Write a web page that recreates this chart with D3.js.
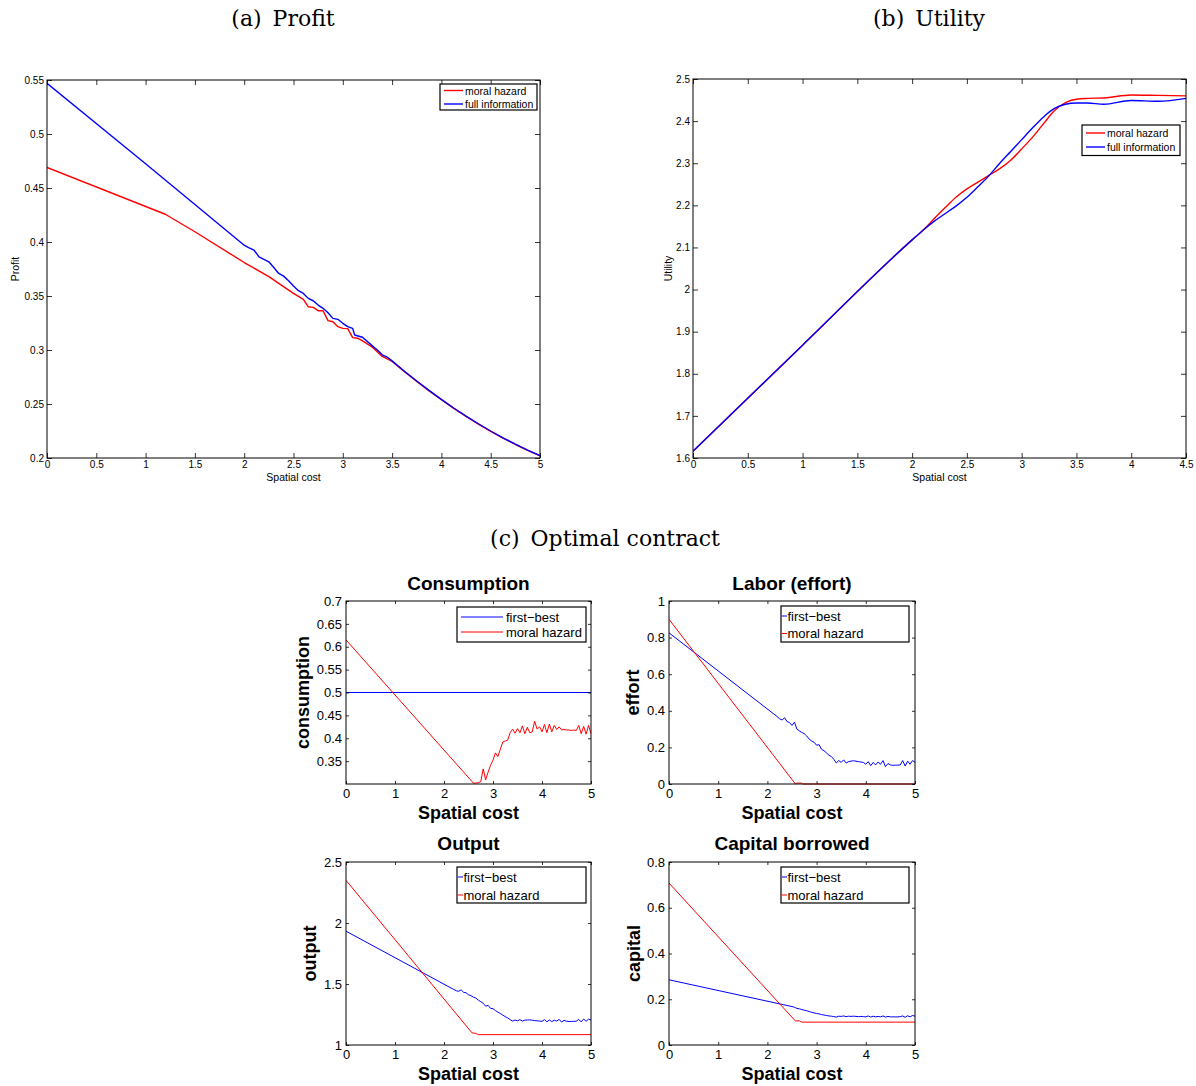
<!DOCTYPE html>
<html><head><meta charset="utf-8">
<script src="https://cdn.jsdelivr.net/npm/d3@7"></script>
<style>body{margin:0;background:#fff}svg{display:block}text{fill:#000}</style>
</head><body>
<svg id="c" width="1196" height="1086"></svg>
<script>
// ---------------- DATA ----------------
// (a) Profit
const profitMhX = [0, 1.2, 1.5, 2.0, 2.25, 2.5, 2.6, 2.65, 2.7, 2.75, 2.8, 2.85, 2.9, 2.95, 3.0, 3.05, 3.1, 3.15, 3.2, 3.3, 3.4, 3.5, 3.625, 3.75, 3.875, 4.0, 4.125, 4.25, 4.375, 4.5, 4.625, 4.75, 4.875, 5.0];
const profitMhY = [0.469, 0.4257, 0.4095, 0.381, 0.368, 0.3524, 0.3469, 0.340, 0.3395, 0.3364, 0.3364, 0.3272, 0.3262, 0.3216, 0.320, 0.3198, 0.3115, 0.3109, 0.3084, 0.3026, 0.294, 0.2895, 0.2800, 0.2709, 0.2622, 0.2539, 0.2460, 0.2385, 0.2314, 0.2247, 0.2184, 0.2125, 0.2070, 0.2019];
const profitFiX = [0, 1.0, 2.0, 2.05, 2.1, 2.15, 2.2, 2.25, 2.3, 2.35, 2.4, 2.45, 2.5, 2.55, 2.6, 2.65, 2.7, 2.75, 2.8, 2.85, 2.9, 2.95, 3.0, 3.05, 3.1, 3.12, 3.2, 3.3, 3.35, 3.4, 3.45, 3.5, 3.625, 3.75, 3.875, 4.0, 4.125, 4.25, 4.375, 4.5, 4.625, 4.75, 4.875, 5.0];
const profitFiY = [0.547, 0.4725, 0.397, 0.3946, 0.3924, 0.3863, 0.384, 0.3817, 0.3764, 0.3709, 0.3684, 0.3641, 0.3592, 0.3549, 0.3524, 0.3478, 0.3456, 0.3416, 0.3386, 0.3345, 0.3293, 0.3284, 0.3247, 0.3216, 0.320, 0.3139, 0.3118, 0.3038, 0.3000, 0.2955, 0.2935, 0.2899, 0.2804, 0.2713, 0.2626, 0.2543, 0.2463, 0.2388, 0.2317, 0.2250, 0.2187, 0.2128, 0.2073, 0.2022];

// (b) Utility
const utilX   = [0, 1.0, 2.0, 2.1, 2.2, 2.3, 2.4, 2.5, 2.6, 2.7, 2.8, 2.9, 3.0, 3.1, 3.2, 3.3, 3.4, 3.5, 3.6, 3.75, 4.0, 4.25, 4.5];
const utilMhY = [1.616, 1.868, 2.118, 2.141, 2.168, 2.194, 2.219, 2.239, 2.255, 2.271, 2.287, 2.307, 2.334, 2.362, 2.394, 2.425, 2.444, 2.452, 2.454, 2.455, 2.462, 2.461, 2.460];
const utilFiY = [1.616, 1.868, 2.118, 2.141, 2.162, 2.180, 2.198, 2.219, 2.244, 2.270, 2.300, 2.328, 2.356, 2.384, 2.410, 2.430, 2.440, 2.443, 2.443, 2.440, 2.449, 2.447, 2.454];

// (c) Optimal contract
const consFbX = [0, 5];
const consFbY = [0.5, 0.5];
const consMhX = [0, 2.6, 2.65, 2.7, 2.75, 2.8, 2.85, 2.9, 2.95, 3.0, 3.05, 3.1, 3.15, 3.2, 3.25, 3.3, 3.35, 3.4, 3.45, 3.5, 3.55, 3.6, 3.65, 3.7, 3.75, 3.8, 3.85, 3.9, 3.95, 4.0, 4.05, 4.1, 4.15, 4.2, 4.25, 4.3, 4.35, 4.4, 4.45, 4.5, 4.55, 4.6, 4.65, 4.7, 4.75, 4.8, 4.85, 4.9, 4.95, 5.0];
const consMhY = [0.615, 0.302, 0.302, 0.303, 0.305, 0.333, 0.309, 0.326, 0.341, 0.352, 0.368, 0.360, 0.376, 0.392, 0.394, 0.396, 0.412, 0.420, 0.411, 0.421, 0.412, 0.427, 0.410, 0.424, 0.412, 0.414, 0.437, 0.420, 0.425, 0.414, 0.430, 0.412, 0.431, 0.414, 0.428, 0.419, 0.425, 0.418, 0.419, 0.418, 0.418, 0.417, 0.418, 0.417, 0.428, 0.410, 0.426, 0.409, 0.428, 0.410];

const noisyX = [2.25, 2.3, 2.35, 2.4, 2.45, 2.5, 2.55, 2.6, 2.65, 2.7, 2.75, 2.8, 2.85, 2.9, 2.95, 3.0, 3.05, 3.1, 3.15, 3.2, 3.25, 3.3, 3.35, 3.4, 3.45, 3.5, 3.55, 3.6, 3.65, 3.7, 3.75, 3.8, 3.85, 3.9, 3.95, 4.0, 4.05, 4.1, 4.15, 4.2, 4.25, 4.3, 4.35, 4.4, 4.45, 4.5, 4.55, 4.6, 4.65, 4.7, 4.75, 4.8, 4.85, 4.9, 4.95, 5.0];

const effortFbX = [0, 2.2].concat(noisyX);
const effortFbY = [0.826, 0.368, 0.356, 0.350, 0.362, 0.341, 0.336, 0.320, 0.338, 0.300, 0.290, 0.282, 0.275, 0.262, 0.245, 0.235, 0.228, 0.212, 0.215, 0.190, 0.182, 0.170, 0.158, 0.150, 0.135, 0.115, 0.128, 0.118, 0.132, 0.115, 0.122, 0.125, 0.127, 0.125, 0.122, 0.120, 0.118, 0.108, 0.122, 0.100, 0.118, 0.104, 0.120, 0.108, 0.128, 0.095, 0.112, 0.104, 0.102, 0.103, 0.103, 0.104, 0.128, 0.098, 0.125, 0.108, 0.128, 0.118];
const effortMhX = [0, 2.57, 2.6, 2.7, 2.72, 5];
const effortMhY = [0.9, 0.0, 0.005, 0.005, 0.0, 0.0];

const outputFbX = [0, 2.2].concat(noisyX);
const outputFbY = [1.933, 1.455, 1.445, 1.440, 1.452, 1.432, 1.428, 1.412, 1.405, 1.392, 1.385, 1.368, 1.355, 1.342, 1.318, 1.325, 1.300, 1.298, 1.282, 1.270, 1.258, 1.245, 1.232, 1.222, 1.208, 1.196, 1.205, 1.198, 1.208, 1.196, 1.204, 1.205, 1.206, 1.203, 1.200, 1.198, 1.196, 1.194, 1.208, 1.190, 1.205, 1.192, 1.203, 1.196, 1.210, 1.188, 1.202, 1.195, 1.193, 1.193, 1.194, 1.195, 1.210, 1.190, 1.212, 1.195, 1.212, 1.205];
const outputMhX = [0, 2.57, 2.65, 2.7, 5];
const outputMhY = [2.35, 1.10, 1.095, 1.085, 1.085];

const capitalFbX = [0, 2.5, 2.55, 2.6, 2.65, 2.7, 2.75, 2.8, 2.85, 2.9, 2.95, 3.0, 3.05, 3.1, 3.15, 3.2, 3.25, 3.3, 3.35, 3.4, 3.45, 3.5, 3.55, 3.6, 3.65, 3.7, 3.75, 3.8, 3.85, 3.9, 3.95, 4.0, 4.05, 4.1, 4.15, 4.2, 4.25, 4.3, 4.35, 4.4, 4.45, 4.5, 4.55, 4.6, 4.65, 4.7, 4.75, 4.8, 4.85, 4.9, 4.95, 5.0];
const capitalFbY = [0.285, 0.168, 0.165, 0.160, 0.158, 0.155, 0.152, 0.150, 0.146, 0.143, 0.140, 0.138, 0.136, 0.133, 0.131, 0.129, 0.127, 0.126, 0.124, 0.122, 0.126, 0.125, 0.127, 0.124, 0.126, 0.125, 0.126, 0.125, 0.124, 0.125, 0.124, 0.123, 0.127, 0.122, 0.126, 0.123, 0.125, 0.123, 0.127, 0.122, 0.125, 0.123, 0.123, 0.123, 0.123, 0.124, 0.127, 0.121, 0.128, 0.123, 0.129, 0.126];
const capitalMhX = [0, 2.57, 2.65, 2.7, 5];
const capitalMhY = [0.708, 0.105, 0.106, 0.100, 0.100];

// tick values
const xTicks5 = [0, 0.5, 1, 1.5, 2, 2.5, 3, 3.5, 4, 4.5, 5];
const xTicks45 = [0, 0.5, 1, 1.5, 2, 2.5, 3, 3.5, 4, 4.5];
const profitTicks = [0.2, 0.25, 0.3, 0.35, 0.4, 0.45, 0.5, 0.55];
const utilTicks = [1.6, 1.7, 1.8, 1.9, 2.0, 2.1, 2.2, 2.3, 2.4, 2.5];
const xTicksInt = [0, 1, 2, 3, 4, 5];
const consTicks = [0.35, 0.4, 0.45, 0.5, 0.55, 0.6, 0.65, 0.7];
const effortTicks = [0, 0.2, 0.4, 0.6, 0.8, 1];
const outputTicks = [1, 1.5, 2, 2.5];
const capitalTicks = [0, 0.2, 0.4, 0.6, 0.8];

const RED = "#ff0000", BLUE = "#0000ff";
const SANS = "'Liberation Sans', Arial, Helvetica, sans-serif";
const SERIF = "'DejaVu Serif', 'Liberation Serif', serif";

// ---------------- DRAW ----------------
const svg = d3.select("#c");
const fmt = d => String(+d.toFixed(3));
let clipN = 0;

function panel(o) {
  const x = d3.scaleLinear().domain(o.xd).range([o.l, o.r]);
  const y = d3.scaleLinear().domain(o.yd).range([o.b, o.t]);
  const g = svg.append("g");
  const id = "clip" + (clipN++);
  svg.append("clipPath").attr("id", id).append("rect")
    .attr("x", o.l).attr("y", o.t - 1).attr("width", o.r - o.l).attr("height", o.b - o.t + 2);

  o.series.forEach(s => {
    const data = s.x.map((v, i) => [v, s.y[i]]);
    g.append("path").datum(data)
      .attr("clip-path", `url(#${id})`)
      .attr("fill", "none").attr("stroke", s.color).attr("stroke-width", o.lw)
      .attr("stroke-linejoin", "round")
      .attr("d", d3.line().x(d => x(d[0])).y(d => y(d[1])).curve(s.curve || d3.curveLinear));
  });

  const tl = o.tl;
  const styleAxis = sel => {
    sel.select(".domain").remove();
    sel.selectAll(".tick line").attr("stroke", "#000").attr("stroke-width", 0.8);
    sel.selectAll(".tick text").attr("font-family", SANS).attr("font-size", o.tfs).attr("fill", "#000");
  };
  g.append("g").attr("transform", `translate(0,${o.b})`)
    .call(d3.axisBottom(x).tickValues(o.xt).tickSize(-tl).tickPadding(o.xpad).tickFormat(fmt)).call(styleAxis);
  g.append("g").attr("transform", `translate(0,${o.t})`)
    .call(d3.axisTop(x).tickValues(o.xt).tickSize(-tl).tickFormat("")).call(styleAxis);
  g.append("g").attr("transform", `translate(${o.l},0)`)
    .call(d3.axisLeft(y).tickValues(o.yt).tickSize(-tl).tickPadding(o.ypad).tickFormat(fmt)).call(styleAxis);
  g.append("g").attr("transform", `translate(${o.r},0)`)
    .call(d3.axisRight(y).tickValues(o.yt).tickSize(-tl).tickFormat("")).call(styleAxis);

  g.append("rect").attr("x", o.l).attr("y", o.t).attr("width", o.r - o.l).attr("height", o.b - o.t)
    .attr("fill", "none").attr("stroke", "#000").attr("stroke-width", o.fw || 1);

  // labels
  g.append("text").attr("x", (o.l + o.r) / 2).attr("y", o.xly)
    .attr("text-anchor", "middle").attr("dominant-baseline", "central")
    .attr("font-family", SANS).attr("font-size", o.lfs).attr("font-weight", o.lbold ? "bold" : "normal")
    .text(o.xlabel);
  g.append("text").attr("transform", `translate(${o.ylx},${(o.t + o.b) / 2}) rotate(-90)`)
    .attr("text-anchor", "middle").attr("dominant-baseline", "central")
    .attr("font-family", SANS).attr("font-size", o.lfs).attr("font-weight", o.lbold ? "bold" : "normal")
    .text(o.ylabel);
  if (o.title) {
    g.append("text").attr("x", (o.l + o.r) / 2).attr("y", o.titley)
      .attr("text-anchor", "middle").attr("dominant-baseline", "central")
      .attr("font-family", SANS).attr("font-size", 19).attr("font-weight", "bold")
      .text(o.title);
  }

  // legend
  const L = o.legend;
  g.append("rect").attr("x", L.x0).attr("y", L.y0).attr("width", L.x1 - L.x0).attr("height", L.y1 - L.y0)
    .attr("fill", "#fff").attr("stroke", "#000").attr("stroke-width", L.bw || 1.2);
  L.items.forEach((it, i) => {
    g.append("line").attr("x1", L.sx0).attr("x2", L.sx1).attr("y1", L.rows[i]).attr("y2", L.rows[i])
      .attr("stroke", it.color).attr("stroke-width", o.lw);
    g.append("text").attr("x", L.tx).attr("y", L.rows[i]).attr("dominant-baseline", "central")
      .attr("font-family", SANS).attr("font-size", L.fs).text(it.label);
  });
}

// Section titles: "(x)" label, then a wider gap, then caption text
function secTitle(lab, txt, cx, cy) {
  const t = svg.append("text").attr("x", cx).attr("y", cy).attr("text-anchor", "middle")
    .attr("dominant-baseline", "central").attr("font-family", SERIF).attr("font-size", 22);
  t.append("tspan").text(lab);
  t.append("tspan").attr("dx", 11).text(txt);
}
secTitle("(a)", "Profit", 283, 18);
secTitle("(b)", "Utility", 929, 18);
secTitle("(c)", "Optimal contract", 605, 538);

// (a) Profit
panel({
  l: 47, r: 540, t: 80, b: 458, xd: [0, 5], yd: [0.2, 0.55], xt: xTicks5, yt: profitTicks,
  tl: 5, tfs: 10, xpad: 3, ypad: 3, lw: 1.4, lfs: 10.5, xly: 477, ylx: 15,
  xlabel: "Spatial cost", ylabel: "Profit",
  series: [{ x: profitMhX, y: profitMhY, color: RED }, { x: profitFiX, y: profitFiY, color: BLUE }],
  legend: { x0: 440, x1: 537, y0: 84, y1: 110, rows: [90.5, 104], sx0: 444, sx1: 463, tx: 465, fs: 10.5,
    items: [{ label: "moral hazard", color: RED }, { label: "full information", color: BLUE }] }
});

// (b) Utility
panel({
  l: 693, r: 1186, t: 79, b: 458, xd: [0, 4.5], yd: [1.6, 2.5], xt: xTicks45, yt: utilTicks,
  tl: 5, tfs: 10, xpad: 3, ypad: 3, lw: 1.4, lfs: 10.5, xly: 477, ylx: 668,
  xlabel: "Spatial cost", ylabel: "Utility",
  series: [{ x: utilX, y: utilMhY, color: RED, curve: d3.curveMonotoneX }, { x: utilX, y: utilFiY, color: BLUE, curve: d3.curveMonotoneX }],
  legend: { x0: 1082, x1: 1180, y0: 125, y1: 155.5, rows: [133, 147], sx0: 1086, sx1: 1105, tx: 1107, fs: 10.5,
    items: [{ label: "moral hazard", color: RED }, { label: "full information", color: BLUE }] }
});

// Consumption
panel({
  l: 346, r: 591, t: 601, b: 784, xd: [0, 5], yd: [0.3, 0.7], xt: xTicksInt, yt: consTicks,
  tl: 3, tfs: 13, xpad: 5, ypad: 4, lw: 1, lfs: 18, lbold: true, xly: 813, ylx: 303,
  xlabel: "Spatial cost", ylabel: "consumption", title: "Consumption", titley: 583,
  series: [{ x: consFbX, y: consFbY, color: BLUE }, { x: consMhX, y: consMhY, color: RED }],
  legend: { x0: 457, x1: 586, y0: 607, y1: 642, rows: [617, 632], sx0: 461, sx1: 503, tx: 506, fs: 13,
    items: [{ label: "first\u2212best", color: BLUE }, { label: "moral hazard", color: RED }] }
});

// Labor (effort)
panel({
  l: 669, r: 915, t: 601, b: 784, xd: [0, 5], yd: [0, 1], xt: xTicksInt, yt: effortTicks,
  tl: 3, tfs: 13, xpad: 5, ypad: 4, lw: 1, lfs: 18, lbold: true, xly: 813, ylx: 633,
  xlabel: "Spatial cost", ylabel: "effort", title: "Labor (effort)", titley: 583,
  series: [{ x: effortFbX, y: effortFbY, color: BLUE }, { x: effortMhX, y: effortMhY, color: RED }],
  legend: { x0: 781, x1: 909, y0: 606, y1: 642, rows: [616, 633.5], sx0: 782, sx1: 787, tx: 787.5, fs: 13,
    items: [{ label: "first\u2212best", color: BLUE }, { label: "moral hazard", color: RED }] }
});

// Output
panel({
  l: 346, r: 591, t: 862, b: 1045, xd: [0, 5], yd: [1, 2.5], xt: xTicksInt, yt: outputTicks,
  tl: 3, tfs: 13, xpad: 5, ypad: 4, lw: 1, lfs: 18, lbold: true, xly: 1074, ylx: 310,
  xlabel: "Spatial cost", ylabel: "output", title: "Output", titley: 843,
  series: [{ x: outputFbX, y: outputFbY, color: BLUE }, { x: outputMhX, y: outputMhY, color: RED }],
  legend: { x0: 457, x1: 586, y0: 867, y1: 903, rows: [877, 895], sx0: 458, sx1: 463, tx: 463.5, fs: 13,
    items: [{ label: "first\u2212best", color: BLUE }, { label: "moral hazard", color: RED }] }
});

// Capital borrowed
panel({
  l: 669, r: 915, t: 862, b: 1045, xd: [0, 5], yd: [0, 0.8], xt: xTicksInt, yt: capitalTicks,
  tl: 3, tfs: 13, xpad: 5, ypad: 4, lw: 1, lfs: 18, lbold: true, xly: 1074, ylx: 634,
  xlabel: "Spatial cost", ylabel: "capital", title: "Capital borrowed", titley: 843,
  series: [{ x: capitalFbX, y: capitalFbY, color: BLUE }, { x: capitalMhX, y: capitalMhY, color: RED }],
  legend: { x0: 781, x1: 909, y0: 867, y1: 903, rows: [877, 895], sx0: 782, sx1: 787, tx: 787.5, fs: 13,
    items: [{ label: "first\u2212best", color: BLUE }, { label: "moral hazard", color: RED }] }
});
</script>
</body></html>
